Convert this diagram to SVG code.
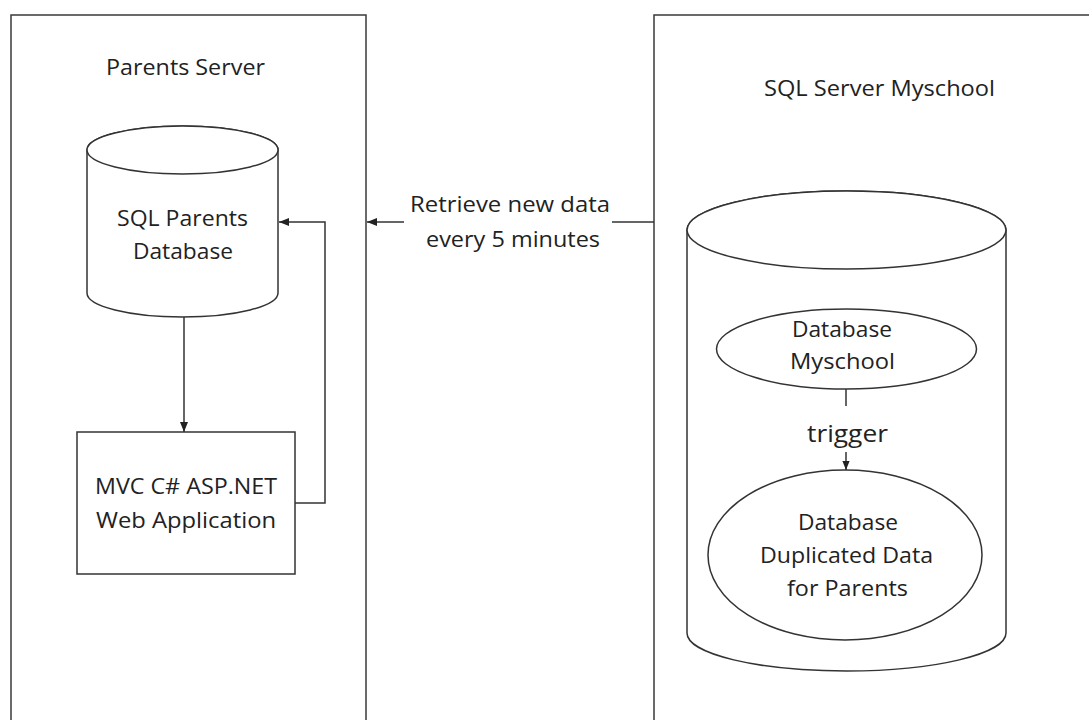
<svg xmlns="http://www.w3.org/2000/svg" width="1089" height="720" viewBox="0 0 1089 720">
<style>
.box{fill:none;stroke:#3a3a3a;stroke-width:1.5}
.shape{fill:#fff;stroke:#333;stroke-width:1.5}
.line{fill:none;stroke:#333;stroke-width:1.5}
text{font-family:"Open Sans","Noto Sans","Liberation Sans",sans-serif;font-size:21px;fill:#222;text-anchor:middle}
</style>
<defs>
<marker id="arr" viewBox="0 0 10 8" refX="10" refY="4" markerWidth="10" markerHeight="8" markerUnits="userSpaceOnUse" orient="auto">
<path d="M0,0 L10,4 L0,8 z" fill="#222"/>
</marker>
<marker id="arrs" viewBox="0 0 10 8" refX="10" refY="4" markerWidth="9" markerHeight="8" markerUnits="userSpaceOnUse" orient="auto">
<path d="M0,0 L10,4 L0,8 z" fill="#222"/>
</marker>
</defs>
<rect width="1089" height="720" fill="#fff"/>
<g id="parents-server">
<rect class="box" x="11" y="15" width="355" height="720"/>
<text x="185.5" y="75" textLength="159" lengthAdjust="spacingAndGlyphs">Parents Server</text>
</g>
<g id="sql-server-myschool">
<rect class="box" x="654" y="15" width="450" height="720"/>
<text x="879.5" y="96" textLength="231" lengthAdjust="spacingAndGlyphs">SQL Server Myschool</text>
</g>
<g id="sql-parents-db">
<path class="shape" d="M87,150 L87,293 A95.5,24 0 0 0 278,293 L278,150 A95.5,24 0 0 0 87,150 Z"/>
<ellipse class="shape" cx="182.5" cy="150" rx="95.5" ry="24"/>
<text x="182.5" y="226" textLength="131" lengthAdjust="spacingAndGlyphs">SQL Parents</text>
<text x="183" y="259" textLength="100" lengthAdjust="spacingAndGlyphs">Database</text>
</g>
<g id="mvc-app">
<rect class="shape" x="77" y="432" width="218" height="142"/>
<text x="186" y="494" textLength="182" lengthAdjust="spacingAndGlyphs">MVC C# ASP.NET</text>
<text x="186" y="528" textLength="180" lengthAdjust="spacingAndGlyphs">Web Application</text>
</g>
<g id="myschool-cylinder">
<path class="shape" d="M687,230 L687,633 A159.5,38 0 0 0 1006,633 L1006,230 A159.5,39 0 0 0 687,230 Z"/>
<ellipse class="shape" cx="846.5" cy="230" rx="159.5" ry="39"/>
</g>
<g id="database-myschool">
<ellipse class="shape" cx="846.5" cy="349" rx="130" ry="40"/>
<text x="842" y="337" textLength="100" lengthAdjust="spacingAndGlyphs">Database</text>
<text x="842.5" y="369" textLength="105" lengthAdjust="spacingAndGlyphs">Myschool</text>
</g>
<g id="database-duplicated">
<ellipse class="shape" cx="845" cy="555" rx="137" ry="85"/>
<text x="848" y="530" textLength="100" lengthAdjust="spacingAndGlyphs">Database</text>
<text x="846.5" y="563" textLength="173" lengthAdjust="spacingAndGlyphs">Duplicated Data</text>
<text x="847.5" y="596" textLength="121" lengthAdjust="spacingAndGlyphs">for Parents</text>
</g>
<g id="connectors">
<line class="line" x1="184" y1="317" x2="184" y2="432" marker-end="url(#arr)"/>
<polyline class="line" points="295,503 325,503 325,222 279,222" marker-end="url(#arr)"/>
<line class="line" x1="654" y1="222" x2="612" y2="222"/>
<line class="line" x1="404" y1="222" x2="367" y2="222" marker-end="url(#arr)"/>
<text x="510" y="212" textLength="200" lengthAdjust="spacingAndGlyphs">Retrieve new data</text>
<text x="513" y="247" textLength="174" lengthAdjust="spacingAndGlyphs">every 5 minutes</text>
<line class="line" x1="846" y1="389" x2="846" y2="406"/>
<line class="line" x1="846" y1="452" x2="846" y2="470" marker-end="url(#arrs)"/>
<text x="847.5" y="442" style="font-size:24px" textLength="81" lengthAdjust="spacingAndGlyphs">trigger</text>
</g>
</svg>
